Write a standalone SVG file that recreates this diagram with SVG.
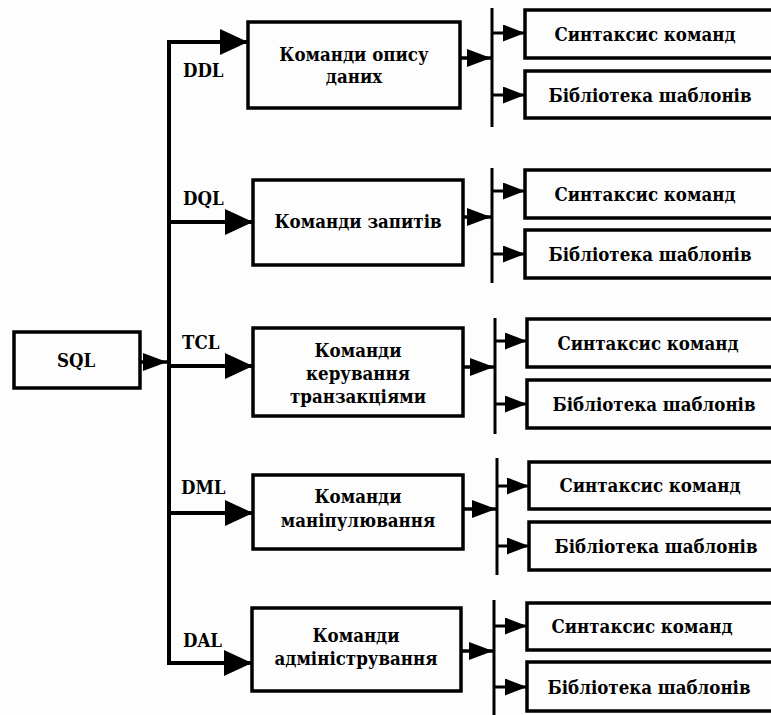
<svg xmlns="http://www.w3.org/2000/svg" width="771" height="715" viewBox="0 0 771 715">
<style>
.box{fill:#fdfdfd;stroke:#000;stroke-width:3.5}
.t{font-family:'DejaVu Serif Condensed','DejaVu Serif',serif;font-stretch:condensed;font-weight:700;font-size:18.5px;fill:#000;text-anchor:middle}
.lbl{font-family:'DejaVu Serif Condensed','DejaVu Serif',serif;font-stretch:condensed;font-weight:700;font-size:18.5px;fill:#000}
.trunk{stroke:#000;stroke-width:4;fill:none}
.br{stroke:#000;stroke-width:4;fill:none;marker-end:url(#big)}
.mo{stroke:#000;stroke-width:3.5;fill:none;marker-end:url(#med)}
.bar{stroke:#000;stroke-width:3;fill:none}
.sm{stroke:#000;stroke-width:3;fill:none;marker-end:url(#sm)}
</style>
<defs>
<marker id="big" markerUnits="userSpaceOnUse" viewBox="0 0 28 26" refX="28" refY="13" markerWidth="28" markerHeight="26" orient="auto"><path d="M0,0 L28,13 L0,26 z" fill="#000"/></marker>
<marker id="med" markerUnits="userSpaceOnUse" viewBox="0 0 24 18" refX="24" refY="9" markerWidth="24" markerHeight="18" orient="auto"><path d="M0,0 L24,9 L0,18 z" fill="#000"/></marker>
<marker id="sm" markerUnits="userSpaceOnUse" viewBox="0 0 22 17" refX="22" refY="8.5" markerWidth="22" markerHeight="17" orient="auto"><path d="M0,0 L22,8.5 L0,17 z" fill="#000"/></marker>
</defs>
<rect x="0" y="0" width="771" height="715" fill="#fdfdfd"/>

<g id="connectors">
<line class="mo" x1="140" y1="362" x2="167" y2="362"/>
<path class="trunk" d="M169,40 V665"/>
<line class="br" x1="167" y1="42" x2="248" y2="42"/>
<line class="br" x1="169" y1="222" x2="253" y2="222"/>
<line class="br" x1="169" y1="366" x2="253" y2="366"/>
<line class="br" x1="169" y1="513" x2="253" y2="513"/>
<line class="br" x1="167" y1="663" x2="252" y2="663"/>

<line class="mo" x1="460" y1="58" x2="491" y2="58"/>
<line class="bar" x1="492" y1="8" x2="492" y2="127"/>
<line class="sm" x1="492" y1="33" x2="525" y2="33"/>
<line class="sm" x1="492" y1="95" x2="525" y2="95"/>

<line class="mo" x1="463" y1="217" x2="491" y2="217"/>
<line class="bar" x1="492" y1="168" x2="492" y2="283"/>
<line class="sm" x1="492" y1="191" x2="525" y2="191"/>
<line class="sm" x1="492" y1="254" x2="525" y2="254"/>

<line class="mo" x1="463" y1="367" x2="494" y2="367"/>
<line class="bar" x1="495" y1="318" x2="495" y2="434"/>
<line class="sm" x1="495" y1="341" x2="527" y2="341"/>
<line class="sm" x1="495" y1="404" x2="527" y2="404"/>

<line class="mo" x1="463" y1="509" x2="496" y2="509"/>
<line class="bar" x1="497" y1="458" x2="497" y2="575"/>
<line class="sm" x1="497" y1="486" x2="529" y2="486"/>
<line class="sm" x1="497" y1="546" x2="529" y2="546"/>

<line class="mo" x1="461" y1="651" x2="493" y2="651"/>
<line class="bar" x1="494" y1="600" x2="494" y2="715"/>
<line class="sm" x1="494" y1="626" x2="527" y2="626"/>
<line class="sm" x1="494" y1="687" x2="527" y2="687"/>
</g>

<g id="labels">
<text class="lbl" x="183" y="77">DDL</text>
<text class="lbl" x="183" y="205">DQL</text>
<text class="lbl" x="182" y="349">TCL</text>
<text class="lbl" x="181" y="494">DML</text>
<text class="lbl" x="183" y="647">DAL</text>
</g>

<g id="sql"><rect class="box" x="14" y="332" width="126" height="56"/><text class="t" x="76" y="367">SQL</text></g>

<g id="ddl"><rect class="box" x="248" y="22" width="212" height="86"/><text class="t" x="354" y="61">Команди опису</text><text class="t" x="354" y="83">даних</text></g>
<g id="dql"><rect class="box" x="253" y="180" width="210" height="85"/><text class="t" x="358" y="228">Команди запитів</text></g>
<g id="tcl"><rect class="box" x="253" y="328" width="210" height="88"/><text class="t" x="358" y="357">Команди</text><text class="t" x="358" y="380">керування</text><text class="t" x="358" y="403">транзакціями</text></g>
<g id="dml"><rect class="box" x="253" y="475" width="210" height="74"/><text class="t" x="358" y="503">Команди</text><text class="t" x="358" y="527">маніпулювання</text></g>
<g id="dal"><rect class="box" x="252" y="608" width="209" height="83"/><text class="t" x="356" y="642">Команди</text><text class="t" x="356" y="665">адміністрування</text></g>

<g id="ddl-syn"><rect class="box" x="525" y="10" width="260" height="48"/><text class="t" x="645" y="41">Синтаксис команд</text></g>
<g id="ddl-lib"><rect class="box" x="525" y="71" width="260" height="47"/><text class="t" x="650" y="102">Бібліотека шаблонів</text></g>
<g id="dql-syn"><rect class="box" x="525" y="170" width="260" height="48"/><text class="t" x="645" y="201">Синтаксис команд</text></g>
<g id="dql-lib"><rect class="box" x="525" y="230" width="260" height="48"/><text class="t" x="650" y="261">Бібліотека шаблонів</text></g>
<g id="tcl-syn"><rect class="box" x="527" y="319" width="260" height="48"/><text class="t" x="648" y="350">Синтаксис команд</text></g>
<g id="tcl-lib"><rect class="box" x="527" y="380" width="260" height="48"/><text class="t" x="654" y="411">Бібліотека шаблонів</text></g>
<g id="dml-syn"><rect class="box" x="529" y="462" width="260" height="47"/><text class="t" x="650" y="492">Синтаксис команд</text></g>
<g id="dml-lib"><rect class="box" x="529" y="522" width="260" height="48"/><text class="t" x="656" y="553">Бібліотека шаблонів</text></g>
<g id="dal-syn"><rect class="box" x="527" y="603" width="260" height="47"/><text class="t" x="642" y="633">Синтаксис команд</text></g>
<g id="dal-lib"><rect class="box" x="527" y="662" width="260" height="49"/><text class="t" x="649" y="694">Бібліотека шаблонів</text></g>
</svg>
